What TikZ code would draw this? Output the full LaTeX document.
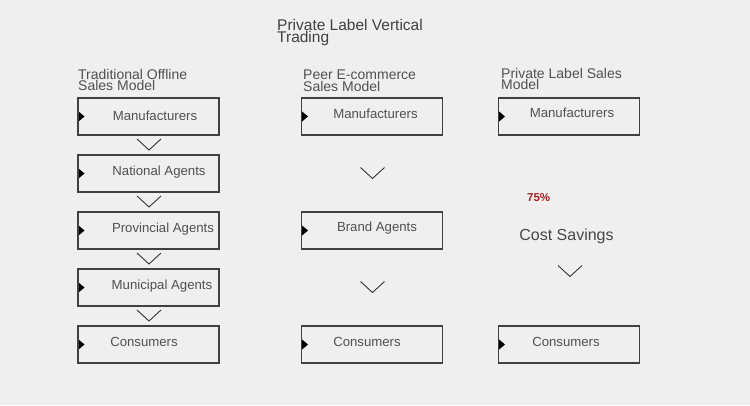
\documentclass[tikz,border=0pt]{standalone}
\usepackage{fontspec}
\setmainfont{Liberation Sans}
\definecolor{bg}{HTML}{EFEFEF}
\definecolor{ink}{HTML}{505050}
\definecolor{edge}{HTML}{404040}
\definecolor{hot}{HTML}{A52121}
\newcommand\chev[2]{\draw[chev] (#1-12,#2) -- (#1,#2+11) -- (#1+12,#2);}

\begin{document}
\begin{tikzpicture}[x=1pt,y=-1pt,
  box/.style = {draw=edge,line width=1.1pt,minimum width=141pt,minimum height=37pt,inner sep=0pt,
    path picture={\fill[black] (path picture bounding box.west) ++(0,5.5pt) -- ++(6.5pt,-5.5pt) -- ++(-6.5pt,-5.5pt) -- cycle;}},
  lbl/.style = {anchor=base,inner sep=0pt,text=ink,font=\fontsize{13.2}{14}\selectfont},
  head/.style = {anchor=base west,inner sep=0pt,align=left,text=ink,font=\fontsize{14}{11.5}\selectfont},
  chev/.style = {draw=black!80,line width=0.9pt}]
\fill[bg] (0,0) rectangle (750,405);
\useasboundingbox (0,0) rectangle (750,405);

\node (top) [head,font=\fontsize{15.5}{12.3}\selectfont,text=black!75] at (277,42.7) {Private Label Vertical\\Trading};

\node (h1) [head] at (78,90.5) {Traditional Offline\\Sales Model};
\node (h2) [head] at (303,91) {Peer E-commerce\\Sales Model};
\node (h3) [head] at (501,89.5) {Private Label Sales\\Model};

\node (1) [box] at (148.5,116.5) {};
\node (2) [box] at (148.5,173.5) {};
\node (3) [box] at (148.5,230.5) {};
\node (4) [box] at (148.5,287.5) {};
\node (5) [box] at (148.5,344.5) {};
\node (1t) [lbl] at (155,120) {Manufacturers};
\node (2t) [lbl] at (159,175) {National Agents};
\node (3t) [lbl] at (163,232) {Provincial Agents};
\node (4t) [lbl] at (162,289) {Municipal Agents};
\node (5t) [lbl] at (144,346) {Consumers};

\node (11) [box] at (372,116.5) {};
\node (12) [box] at (372,230.5) {};
\node (13) [box] at (372,344.5) {};
\node (11t) [lbl] at (375.5,118) {Manufacturers};
\node (12t) [lbl] at (377,231) {Brand Agents};
\node (13t) [lbl] at (367,346) {Consumers};

\node (21) [box] at (569,116.5) {};
\node (22) [box] at (569,344.5) {};
\node (21t) [lbl] at (572,117) {Manufacturers};
\node (22t) [lbl] at (566,346) {Consumers};

\node (pct) [anchor=base west,inner sep=0pt,text=hot,font=\fontsize{11.5}{12}\selectfont\bfseries] at (527,201.5) {75\%};
\node (cost) [anchor=base,inner sep=0pt,text=black!72,font=\fontsize{16}{18}\selectfont] at (566.5,240) {Cost Savings};

\chev{149}{139}
\chev{149}{196}
\chev{149}{253}
\chev{149}{310}
\chev{372.5}{167.5}
\chev{372.5}{281.5}
\chev{570}{265.5}
\end{tikzpicture}
\end{document}
